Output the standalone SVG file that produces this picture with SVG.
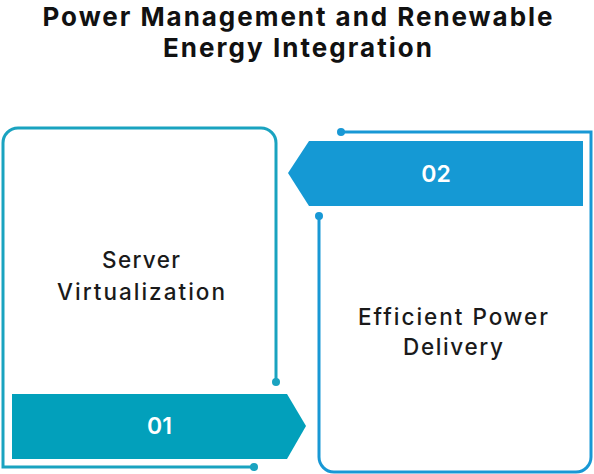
<svg xmlns="http://www.w3.org/2000/svg" width="594" height="474" viewBox="0 0 594 474">
<style>
.title{font-family:Inter,"Noto Sans",sans-serif;font-weight:700;font-size:26px;fill:#111;text-anchor:middle}
.lbl{font-family:Inter,"Noto Sans",sans-serif;font-weight:500;font-size:22.5px;fill:#1a1a1a;text-anchor:middle}
.num{font-family:Inter,"Noto Sans",sans-serif;font-weight:600;font-size:23px;fill:#fff;text-anchor:middle}
.frame{fill:none;stroke-width:3}
</style>
<rect width="594" height="474" fill="#fff"/>
<g id="title">
<text class="title" x="297.5" y="26" textLength="510" lengthAdjust="spacing">Power Management and Renewable</text>
<text class="title" x="297.5" y="57" textLength="269" lengthAdjust="spacing">Energy Integration</text>
</g>
<g id="node1">
<path class="frame" stroke="#1AA3C0" d="M276,382 V143 A15,15 0 0 0 261,128 H18 A15,15 0 0 0 3,143 V467 H254"/>
<circle cx="276" cy="382" r="4" fill="#1AA3C0"/>
<circle cx="254" cy="467" r="4" fill="#1AA3C0"/>
<polygon points="12,394 287,394 306,426 287,459 12,459" fill="#02A0BB"/>
<text class="num" x="159.5" y="434">01</text>
<text class="lbl" x="141" y="268" textLength="78" lengthAdjust="spacing">Server</text>
<text class="lbl" x="141" y="300" textLength="168" lengthAdjust="spacing">Virtualization</text>
</g>
<g id="node2">
<path class="frame" stroke="#1898D5" d="M341,132 H591 V457 A15,15 0 0 1 576,472 H334 A15,15 0 0 1 319,457 V216"/>
<circle cx="341" cy="132" r="4" fill="#1898D5"/>
<circle cx="319" cy="216" r="4" fill="#1898D5"/>
<polygon points="583,141 309,141 288,173 309,206 583,206" fill="#1599D4"/>
<text class="num" x="436" y="182">02</text>
<text class="lbl" x="453" y="325" textLength="190" lengthAdjust="spacing">Efficient Power</text>
<text class="lbl" x="453" y="355" textLength="100" lengthAdjust="spacing">Delivery</text>
</g>
<g id="connectors"></g>
</svg>
